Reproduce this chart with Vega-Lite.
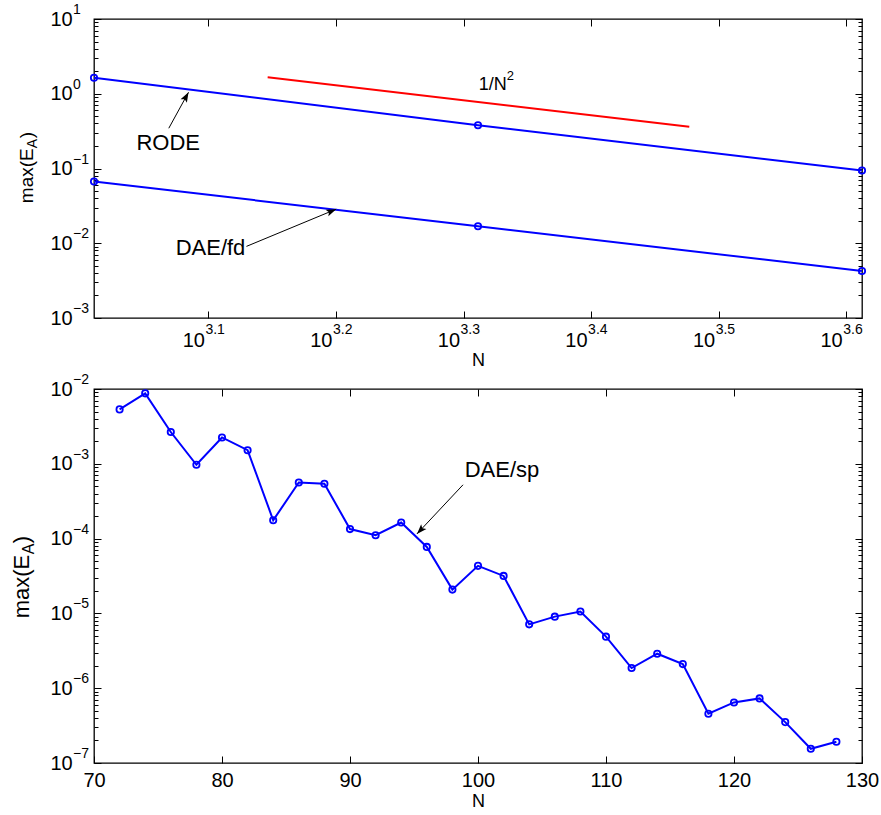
{
  "$schema": "https://vega.github.io/schema/vega-lite/v6.json",
  "padding": {"left": 10, "top": 2, "right": 5, "bottom": 5},
  "spacing": 1,
  "config": {
    "font": "Liberation Sans",
    "view": {"stroke": "black", "strokeWidth": 1.3},
    "axis": {
      "grid": false,
      "domain": false,
      "tickColor": "black",
      "tickWidth": 1,
      "labelColor": "black",
      "titleColor": "black",
      "labelFont": "Liberation Sans",
      "titleFont": "Liberation Sans",
      "titleFontWeight": "normal",
      "labelFlush": false,
      "labelOverlap": false,
      "labelBound": false
    },
    "text": {"font": "Liberation Sans", "color": "black"}
  },
  "datasets": {
    "convergence": [
      {"method": "RODE", "N": 1024, "err": 1.64},
      {"method": "RODE", "N": 2048, "err": 0.379},
      {"method": "RODE", "N": 4096, "err": 0.094},
      {"method": "DAE/fd", "N": 1024, "err": 0.067},
      {"method": "DAE/fd", "N": 2048, "err": 0.0169},
      {"method": "DAE/fd", "N": 4096, "err": 0.00425}
    ],
    "slope": [
      {"N": 1401, "err": 1.66},
      {"N": 2999, "err": 0.362}
    ],
    "slope_label": [
      {"N": 2051, "err": 1.125, "label": "1/N", "power": "2"}
    ],
    "labels_top": [
      {"N": 1105.6, "err": 0.1778, "label": "RODE"},
      {"N": 1186.6, "err": 0.00689, "label": "DAE/fd"}
    ],
    "arrows_top": [
      {"name": "RODE", "N0": 1172, "e0": 0.3454, "N1": 1214.5, "e1": 1.046},
      {"name": "DAE/fd", "N0": 1348.4, "e0": 0.00908, "N1": 1585.5, "e1": 0.02858}
    ],
    "exp_y_top": [
      {"v": 10, "e": "1"},
      {"v": 1, "e": "0"},
      {"v": 0.1, "e": "−1"},
      {"v": 0.01, "e": "−2"},
      {"v": 0.001, "e": "−3"}
    ],
    "exp_x_top": [
      {"v": 1258.925, "e": "3.1"},
      {"v": 1584.893, "e": "3.2"},
      {"v": 1995.262, "e": "3.3"},
      {"v": 2511.886, "e": "3.4"},
      {"v": 3162.278, "e": "3.5"},
      {"v": 3981.072, "e": "3.6"}
    ],
    "axis_title": [
      {"piece": "max(E"},
      {"piece": "A"},
      {"piece": ")"}
    ],
    "spectral": [
      {"N": 72, "err": 5.34e-3},
      {"N": 74, "err": 8.75e-3},
      {"N": 76, "err": 2.66e-3},
      {"N": 78, "err": 9.7e-4},
      {"N": 80, "err": 2.25e-3},
      {"N": 82, "err": 1.52e-3},
      {"N": 84, "err": 1.76e-4},
      {"N": 86, "err": 5.63e-4},
      {"N": 88, "err": 5.41e-4},
      {"N": 90, "err": 1.34e-4},
      {"N": 92, "err": 1.11e-4},
      {"N": 94, "err": 1.64e-4},
      {"N": 96, "err": 7.74e-5},
      {"N": 98, "err": 2.08e-5},
      {"N": 100, "err": 4.32e-5},
      {"N": 102, "err": 3.17e-5},
      {"N": 104, "err": 7.14e-6},
      {"N": 106, "err": 9.05e-6},
      {"N": 108, "err": 1.06e-5},
      {"N": 110, "err": 4.89e-6},
      {"N": 112, "err": 1.86e-6},
      {"N": 114, "err": 2.89e-6},
      {"N": 116, "err": 2.10e-6},
      {"N": 118, "err": 4.55e-7},
      {"N": 120, "err": 6.45e-7},
      {"N": 122, "err": 7.30e-7},
      {"N": 124, "err": 3.52e-7},
      {"N": 126, "err": 1.55e-7},
      {"N": 128, "err": 1.92e-7}
    ],
    "labels_bottom": [
      {"N": 98.96, "err": 6.64e-4, "label": "DAE/sp"}
    ],
    "arrows_bottom": [
      {"name": "DAE/sp", "N0": 98.83, "e0": 5.24e-4, "N1": 95.23, "e1": 1.156e-4}
    ],
    "exp_y_bottom": [
      {"v": 1e-2, "e": "−2"},
      {"v": 1e-3, "e": "−3"},
      {"v": 1e-4, "e": "−4"},
      {"v": 1e-5, "e": "−5"},
      {"v": 1e-6, "e": "−6"},
      {"v": 1e-7, "e": "−7"}
    ]
  },
  "vconcat": [
    {
      "width": 768,
      "height": 299,
      "resolve": {"axis": {"x": "independent", "y": "independent"}},
      "layer": [
        {
          "data": {"name": "convergence"},
          "mark": {"type": "line", "color": "#0000ff", "strokeWidth": 2},
          "encoding": {
            "x": {
              "field": "N", "type": "quantitative",
              "scale": {"type": "log", "domain": [1024, 4096], "nice": false},
              "axis": {
                "orient": "bottom",
                "values": [1258.925, 1584.893, 1995.262, 2511.886, 3162.278, 3981.072],
                "labelExpr": "'10'",
                "offset": -7,
                "tickSize": 7,
                "labelAlign": "right",
                "labelOffset": -4,
                "labelPadding": 12.8,
                "labelFontSize": 20,
                "title": "N",
                "titleFontSize": 18,
                "titleY": 40.5,
                "titleBaseline": "top"
              }
            },
            "y": {
              "field": "err", "type": "quantitative",
              "scale": {"type": "log", "domain": [0.001, 10], "nice": false},
              "axis": {
                "orient": "left",
                "values": [0.001, 0.01, 0.1, 1, 10],
                "labelExpr": "'10'",
                "offset": -7,
                "tickSize": 7,
                "labelPadding": 21.8,
                "labelFontSize": 20,
                "title": null
              }
            },
            "detail": {"field": "method"}
          }
        },
        {
          "data": {"name": "convergence"},
          "mark": {"type": "point", "shape": "circle", "filled": false, "color": "#0000ff", "strokeWidth": 1.8, "size": 40, "opacity": 1},
          "encoding": {
            "x": {
              "field": "N", "type": "quantitative",
              "scale": {"type": "log", "domain": [1024, 4096], "nice": false},
              "axis": {
                "orient": "top",
                "values": [1258.925, 1584.893, 1995.262, 2511.886, 3162.278, 3981.072],
                "labels": false, "offset": -7, "tickSize": 7, "title": null
              }
            },
            "y": {
              "field": "err", "type": "quantitative",
              "scale": {"type": "log", "domain": [0.001, 10], "nice": false},
              "axis": {
                "orient": "right",
                "values": [0.001, 0.01, 0.1, 1, 10],
                "labels": false, "offset": -7, "tickSize": 7, "title": null
              }
            }
          }
        },
        {
          "data": {"name": "slope"},
          "mark": {"type": "line", "color": "#ff0000", "strokeWidth": 2},
          "encoding": {
            "x": {"field": "N", "type": "quantitative", "scale": {"type": "log", "domain": [1024, 4096], "nice": false}, "axis": null},
            "y": {
              "field": "err", "type": "quantitative",
              "scale": {"type": "log", "domain": [0.001, 10], "nice": false},
              "axis": {
                "orient": "left",
                "values": [0.002, 0.003, 0.004, 0.005, 0.006, 0.007, 0.008, 0.009,
                           0.02, 0.03, 0.04, 0.05, 0.06, 0.07, 0.08, 0.09,
                           0.2, 0.3, 0.4, 0.5, 0.6, 0.7, 0.8, 0.9,
                           2, 3, 4, 5, 6, 7, 8, 9],
                "labels": false, "offset": -4, "tickSize": 4, "title": null
              }
            }
          }
        },
        {
          "data": {"name": "labels_top"},
          "mark": {"type": "text", "fontSize": 22, "align": "left", "baseline": "alphabetic"},
          "encoding": {
            "x": {"field": "N", "type": "quantitative", "scale": {"type": "log", "domain": [1024, 4096], "nice": false}, "axis": null},
            "y": {
              "field": "err", "type": "quantitative",
              "scale": {"type": "log", "domain": [0.001, 10], "nice": false},
              "axis": {
                "orient": "right",
                "values": [0.002, 0.003, 0.004, 0.005, 0.006, 0.007, 0.008, 0.009,
                           0.02, 0.03, 0.04, 0.05, 0.06, 0.07, 0.08, 0.09,
                           0.2, 0.3, 0.4, 0.5, 0.6, 0.7, 0.8, 0.9,
                           2, 3, 4, 5, 6, 7, 8, 9],
                "labels": false, "offset": -4, "tickSize": 4, "title": null
              }
            },
            "text": {"field": "label"}
          }
        },
        {
          "data": {"name": "slope_label"},
          "mark": {"type": "text", "fontSize": 18, "align": "left", "baseline": "alphabetic"},
          "encoding": {
            "x": {"field": "N", "type": "quantitative", "axis": null},
            "y": {"field": "err", "type": "quantitative", "axis": null},
            "text": {"field": "label"}
          }
        },
        {
          "data": {"name": "slope_label"},
          "mark": {"type": "text", "fontSize": 13, "align": "left", "baseline": "alphabetic", "dx": 28, "dy": -10},
          "encoding": {
            "x": {"field": "N", "type": "quantitative", "axis": null},
            "y": {"field": "err", "type": "quantitative", "axis": null},
            "text": {"field": "power"}
          }
        },
        {
          "data": {"name": "arrows_top"},
          "mark": {"type": "rule", "color": "black", "strokeWidth": 1},
          "encoding": {
            "x": {"field": "N0", "type": "quantitative", "axis": null},
            "y": {"field": "e0", "type": "quantitative", "axis": null},
            "x2": {"field": "N1"},
            "y2": {"field": "e1"}
          }
        },
        {
          "data": {"name": "arrows_top"},
          "transform": [{"filter": "datum.name === 'RODE'"}],
          "mark": {"type": "point", "shape": "M0,0L0.36,1L0,0.78L-0.36,1Z", "filled": true, "color": "black", "opacity": 1, "size": 400, "angle": 28.7},
          "encoding": {
            "x": {"field": "N1", "type": "quantitative", "axis": null},
            "y": {"field": "e1", "type": "quantitative", "axis": null}
          }
        },
        {
          "data": {"name": "arrows_top"},
          "transform": [{"filter": "datum.name === 'DAE/fd'"}],
          "mark": {"type": "point", "shape": "M0,0L0.36,1L0,0.78L-0.36,1Z", "filled": true, "color": "black", "opacity": 1, "size": 400, "angle": 67.5},
          "encoding": {
            "x": {"field": "N1", "type": "quantitative", "axis": null},
            "y": {"field": "e1", "type": "quantitative", "axis": null}
          }
        },
        {
          "data": {"name": "exp_y_top"},
          "mark": {"type": "text", "fontSize": 14, "align": "left", "baseline": "alphabetic", "dx": -21, "dy": -5},
          "encoding": {
            "x": {"datum": 1024, "type": "quantitative", "axis": null},
            "y": {"field": "v", "type": "quantitative", "axis": null},
            "text": {"field": "e"}
          }
        },
        {
          "data": {"name": "exp_x_top"},
          "mark": {"type": "text", "fontSize": 14, "align": "left", "baseline": "alphabetic", "dx": -3, "dy": 16},
          "encoding": {
            "x": {"field": "v", "type": "quantitative", "axis": null},
            "y": {"datum": 0.001, "type": "quantitative", "axis": null},
            "text": {"field": "e"}
          }
        },
        {
          "data": {"name": "axis_title"},
          "transform": [{"filter": "datum.piece === 'max(E'"}],
          "mark": {"type": "text", "fontSize": 19, "angle": 270, "align": "left", "baseline": "alphabetic", "dx": 0, "dy": -61},
          "encoding": {
            "x": {"datum": 1024, "type": "quantitative", "axis": null},
            "y": {"datum": 0.0344, "type": "quantitative", "axis": null},
            "text": {"field": "piece"}
          }
        },
        {
          "data": {"name": "axis_title"},
          "transform": [{"filter": "datum.piece === 'A'"}],
          "mark": {"type": "text", "fontSize": 14, "angle": 270, "align": "left", "baseline": "alphabetic", "dx": 55, "dy": -57},
          "encoding": {
            "x": {"datum": 1024, "type": "quantitative", "axis": null},
            "y": {"datum": 0.0344, "type": "quantitative", "axis": null},
            "text": {"field": "piece"}
          }
        },
        {
          "data": {"name": "axis_title"},
          "transform": [{"filter": "datum.piece === ')'"}],
          "mark": {"type": "text", "fontSize": 19, "angle": 270, "align": "left", "baseline": "alphabetic", "dx": 65, "dy": -61},
          "encoding": {
            "x": {"datum": 1024, "type": "quantitative", "axis": null},
            "y": {"datum": 0.0344, "type": "quantitative", "axis": null},
            "text": {"field": "piece"}
          }
        }
      ]
    },
    {
      "width": 768,
      "height": 374,
      "resolve": {"axis": {"x": "independent", "y": "independent"}},
      "layer": [
        {
          "data": {"name": "spectral"},
          "mark": {"type": "line", "color": "#0000ff", "strokeWidth": 2},
          "encoding": {
            "x": {
              "field": "N", "type": "quantitative",
              "scale": {"domain": [70, 130], "nice": false, "zero": false},
              "axis": {
                "orient": "bottom",
                "values": [70, 80, 90, 100, 110, 120, 130],
                "offset": -7,
                "tickSize": 7,
                "labelPadding": 7.1,
                "labelFontSize": 20,
                "title": "N",
                "titleFontSize": 18,
                "titleY": 36,
                "titleBaseline": "top"
              }
            },
            "y": {
              "field": "err", "type": "quantitative",
              "scale": {"type": "log", "domain": [1e-7, 1e-2], "nice": false},
              "axis": {
                "orient": "left",
                "values": [1e-7, 1e-6, 1e-5, 1e-4, 1e-3, 1e-2],
                "labelExpr": "'10'",
                "offset": -7,
                "tickSize": 7,
                "labelPadding": 21.8,
                "labelFontSize": 20,
                "title": null
              }
            }
          }
        },
        {
          "data": {"name": "spectral"},
          "mark": {"type": "point", "shape": "circle", "filled": false, "color": "#0000ff", "strokeWidth": 1.8, "size": 40, "opacity": 1},
          "encoding": {
            "x": {
              "field": "N", "type": "quantitative",
              "scale": {"domain": [70, 130], "nice": false, "zero": false},
              "axis": {"orient": "top", "values": [70, 80, 90, 100, 110, 120, 130], "labels": false, "offset": -7, "tickSize": 7, "title": null}
            },
            "y": {
              "field": "err", "type": "quantitative",
              "scale": {"type": "log", "domain": [1e-7, 1e-2], "nice": false},
              "axis": {"orient": "right", "values": [1e-7, 1e-6, 1e-5, 1e-4, 1e-3, 1e-2], "labels": false, "offset": -7, "tickSize": 7, "title": null}
            }
          }
        },
        {
          "data": {"name": "arrows_bottom"},
          "mark": {"type": "rule", "color": "black", "strokeWidth": 1},
          "encoding": {
            "x": {"field": "N0", "type": "quantitative", "axis": null},
            "y": {
              "field": "e0", "type": "quantitative",
              "axis": {
                "orient": "left",
                "values": [2e-7, 3e-7, 4e-7, 5e-7, 6e-7, 7e-7, 8e-7, 9e-7,
                           2e-6, 3e-6, 4e-6, 5e-6, 6e-6, 7e-6, 8e-6, 9e-6,
                           2e-5, 3e-5, 4e-5, 5e-5, 6e-5, 7e-5, 8e-5, 9e-5,
                           2e-4, 3e-4, 4e-4, 5e-4, 6e-4, 7e-4, 8e-4, 9e-4,
                           2e-3, 3e-3, 4e-3, 5e-3, 6e-3, 7e-3, 8e-3, 9e-3],
                "labels": false, "offset": -4, "tickSize": 4, "title": null
              }
            },
            "x2": {"field": "N1"},
            "y2": {"field": "e1"}
          }
        },
        {
          "data": {"name": "arrows_bottom"},
          "mark": {"type": "point", "shape": "M0,0L0.36,1L0,0.78L-0.36,1Z", "filled": true, "color": "black", "opacity": 1, "size": 400, "angle": 223.2},
          "encoding": {
            "x": {"field": "N1", "type": "quantitative", "axis": null},
            "y": {
              "field": "e1", "type": "quantitative",
              "axis": {
                "orient": "right",
                "values": [2e-7, 3e-7, 4e-7, 5e-7, 6e-7, 7e-7, 8e-7, 9e-7,
                           2e-6, 3e-6, 4e-6, 5e-6, 6e-6, 7e-6, 8e-6, 9e-6,
                           2e-5, 3e-5, 4e-5, 5e-5, 6e-5, 7e-5, 8e-5, 9e-5,
                           2e-4, 3e-4, 4e-4, 5e-4, 6e-4, 7e-4, 8e-4, 9e-4,
                           2e-3, 3e-3, 4e-3, 5e-3, 6e-3, 7e-3, 8e-3, 9e-3],
                "labels": false, "offset": -4, "tickSize": 4, "title": null
              }
            }
          }
        },
        {
          "data": {"name": "labels_bottom"},
          "mark": {"type": "text", "fontSize": 22, "align": "left", "baseline": "alphabetic"},
          "encoding": {
            "x": {"field": "N", "type": "quantitative", "axis": null},
            "y": {"field": "err", "type": "quantitative", "axis": null},
            "text": {"field": "label"}
          }
        },
        {
          "data": {"name": "exp_y_bottom"},
          "mark": {"type": "text", "fontSize": 14, "align": "left", "baseline": "alphabetic", "dx": -21, "dy": -5},
          "encoding": {
            "x": {"datum": 70, "type": "quantitative", "axis": null},
            "y": {"field": "v", "type": "quantitative", "axis": null},
            "text": {"field": "e"}
          }
        },
        {
          "data": {"name": "axis_title"},
          "transform": [{"filter": "datum.piece === 'max(E'"}],
          "mark": {"type": "text", "fontSize": 22, "angle": 270, "align": "left", "baseline": "alphabetic", "dx": 0, "dy": -65},
          "encoding": {
            "x": {"datum": 70, "type": "quantitative", "axis": null},
            "y": {"datum": 8.6e-6, "type": "quantitative", "axis": null},
            "text": {"field": "piece"}
          }
        },
        {
          "data": {"name": "axis_title"},
          "transform": [{"filter": "datum.piece === 'A'"}],
          "mark": {"type": "text", "fontSize": 16, "angle": 270, "align": "left", "baseline": "alphabetic", "dx": 64, "dy": -60},
          "encoding": {
            "x": {"datum": 70, "type": "quantitative", "axis": null},
            "y": {"datum": 8.6e-6, "type": "quantitative", "axis": null},
            "text": {"field": "piece"}
          }
        },
        {
          "data": {"name": "axis_title"},
          "transform": [{"filter": "datum.piece === ')'"}],
          "mark": {"type": "text", "fontSize": 22, "angle": 270, "align": "left", "baseline": "alphabetic", "dx": 75, "dy": -65},
          "encoding": {
            "x": {"datum": 70, "type": "quantitative", "axis": null},
            "y": {"datum": 8.6e-6, "type": "quantitative", "axis": null},
            "text": {"field": "piece"}
          }
        }
      ]
    }
  ]
}
